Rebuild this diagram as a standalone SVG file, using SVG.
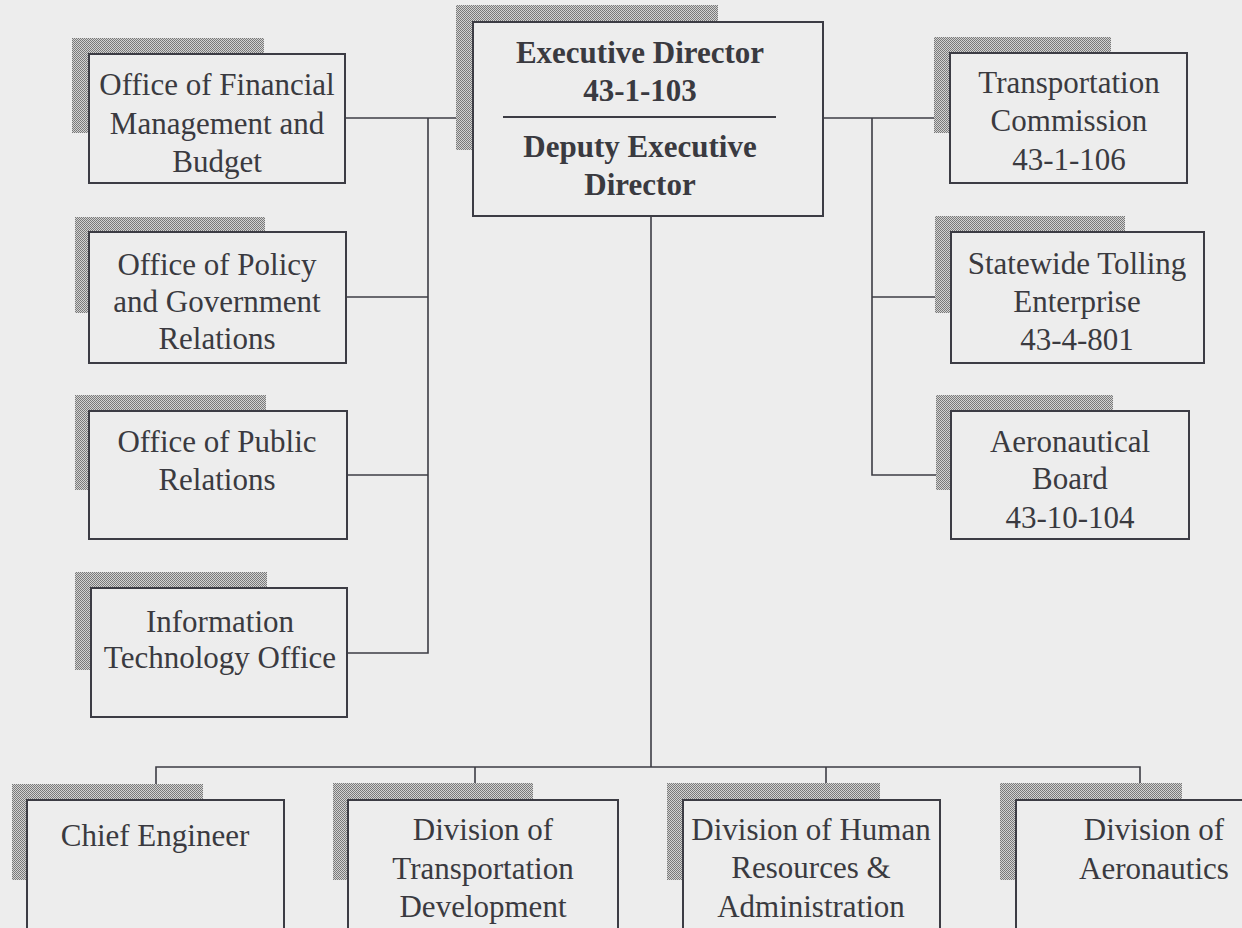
<svg xmlns="http://www.w3.org/2000/svg" width="1242" height="928" viewBox="0 0 1242 928">
<style>
.box{fill:#ededed;stroke:#3c3c44;stroke-width:2}
.sh{fill:url(#dots)}
.t{font-family:"Liberation Serif","Times New Roman",serif;font-size:31px;fill:#3a3a40;text-anchor:middle}
.b{font-weight:bold}
.c{fill:none;stroke:#3c3c44;stroke-width:1.6}
</style>
<defs>
<pattern id="dots" width="2" height="2" patternUnits="userSpaceOnUse">
<rect width="2" height="2" fill="#d2d2d2"/>
<rect width="1" height="1" fill="#777777"/>
<rect x="1" y="1" width="1" height="1" fill="#7c7c7c"/>
</pattern>
</defs>
<rect width="1242" height="928" fill="#ededed"/>

<g id="connectors">
<polyline class="c" points="345,118 473,118"/>
<polyline class="c" points="428,118 428,653 347,653"/>
<polyline class="c" points="346,297 428,297"/>
<polyline class="c" points="347,475 428,475"/>
<polyline class="c" points="823,118 950,118"/>
<polyline class="c" points="872,118 872,475 951,475"/>
<polyline class="c" points="872,297 951,297"/>
<polyline class="c" points="651,216 651,767"/>
<polyline class="c" points="156,800 156,767 1140,767 1140,800"/>
<polyline class="c" points="475,767 475,800"/>
<polyline class="c" points="826,767 826,800"/>
</g>

<g id="exec">
<rect class="sh" x="456" y="5" width="262" height="145"/>
<rect class="box" x="473" y="22" width="350" height="194"/>
<text class="t b" x="640" y="63">Executive Director</text>
<text class="t b" x="640" y="101">43-1-103</text>
<line x1="503" y1="117" x2="776" y2="117" stroke="#3c3c44" stroke-width="2"/>
<text class="t b" x="640" y="157">Deputy Executive</text>
<text class="t b" x="640" y="195">Director</text>
</g>

<g id="ofmb">
<rect class="sh" x="72" y="38" width="192" height="95"/>
<rect class="box" x="89" y="54" width="256" height="129"/>
<text class="t" x="217" y="95">Office of Financial</text>
<text class="t" x="217" y="134">Management and</text>
<text class="t" x="217" y="172">Budget</text>
</g>

<g id="policy">
<rect class="sh" x="75" y="217" width="190" height="96"/>
<rect class="box" x="89" y="232" width="257" height="131"/>
<text class="t" x="217" y="275">Office of Policy</text>
<text class="t" x="217" y="312">and Government</text>
<text class="t" x="217" y="349">Relations</text>
</g>

<g id="publicrel">
<rect class="sh" x="75" y="395" width="191" height="95"/>
<rect class="box" x="89" y="411" width="258" height="128"/>
<text class="t" x="217" y="452">Office of Public</text>
<text class="t" x="217" y="490">Relations</text>
</g>

<g id="ito">
<rect class="sh" x="75" y="572" width="192" height="98"/>
<rect class="box" x="91" y="588" width="256" height="129"/>
<text class="t" x="220" y="632">Information</text>
<text class="t" x="220" y="668">Technology Office</text>
</g>

<g id="tc">
<rect class="sh" x="934" y="37" width="177" height="96"/>
<rect class="box" x="950" y="53" width="237" height="130"/>
<text class="t" x="1069" y="93">Transportation</text>
<text class="t" x="1069" y="131">Commission</text>
<text class="t" x="1069" y="170">43-1-106</text>
</g>

<g id="tolling">
<rect class="sh" x="935" y="216" width="190" height="97"/>
<rect class="box" x="951" y="232" width="253" height="131"/>
<text class="t" x="1077" y="274">Statewide Tolling</text>
<text class="t" x="1077" y="312">Enterprise</text>
<text class="t" x="1077" y="350">43-4-801</text>
</g>

<g id="aeroboard">
<rect class="sh" x="936" y="395" width="177" height="95"/>
<rect class="box" x="951" y="411" width="238" height="128"/>
<text class="t" x="1070" y="452">Aeronautical</text>
<text class="t" x="1070" y="489">Board</text>
<text class="t" x="1070" y="528">43-10-104</text>
</g>

<g id="chief">
<rect class="sh" x="12" y="784" width="191" height="96"/>
<rect class="box" x="27" y="800" width="257" height="160"/>
<text class="t" x="155" y="846">Chief Engineer</text>
</g>

<g id="dtd">
<rect class="sh" x="333" y="783" width="200" height="97"/>
<rect class="box" x="348" y="800" width="270" height="160"/>
<text class="t" x="483" y="840">Division of</text>
<text class="t" x="483" y="879">Transportation</text>
<text class="t" x="483" y="917">Development</text>
</g>

<g id="hr">
<rect class="sh" x="667" y="783" width="213" height="97"/>
<rect class="box" x="683" y="800" width="257" height="160"/>
<text class="t" x="811" y="840">Division of Human</text>
<text class="t" x="811" y="878">Resources &amp;</text>
<text class="t" x="811" y="917">Administration</text>
</g>

<g id="aeronautics">
<rect class="sh" x="1000" y="783" width="182" height="97"/>
<rect class="box" x="1016" y="800" width="260" height="160"/>
<text class="t" x="1154" y="840">Division of</text>
<text class="t" x="1154" y="879">Aeronautics</text>
</g>
</svg>
